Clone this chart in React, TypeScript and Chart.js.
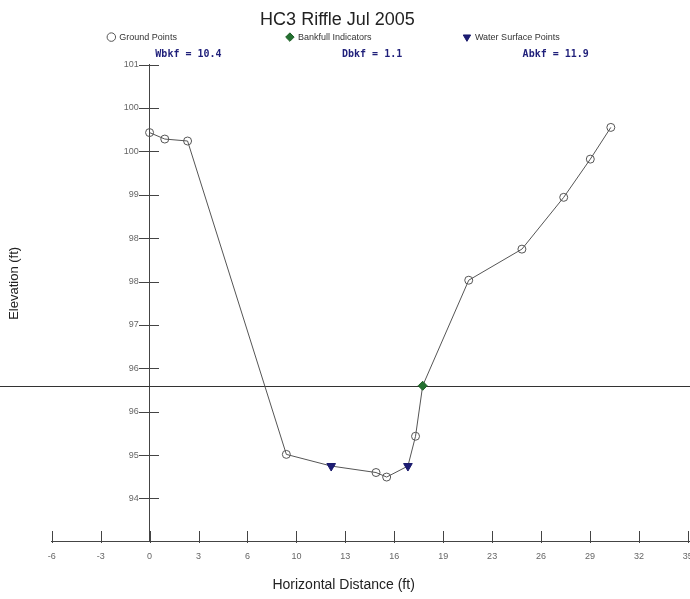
import React, { useEffect, useRef } from 'react';
import { Chart, registerables } from 'chart.js';

Chart.register(...registerables);

// ---- data ----
const chartTitle = 'HC3 Riffle Jul 2005';
const xAxisTitle = 'Horizontal Distance (ft)';
const yAxisTitle = 'Elevation (ft)';
const seriesNames = ['Ground Points', 'Bankfull Indicators', 'Water Surface Points'];

const groundStation = [0, 1.0, 2.5, 9.0, 14.9, 15.6, 17.5, 21.0, 24.5, 27.25, 29.0, 30.35];
const groundElevation = [99.95, 99.85, 99.82, 94.98, 94.7, 94.63, 95.26, 97.67, 98.15, 98.95, 99.54, 100.03];
const bankfullStation = [17.97];
const bankfullElevation = [96.04];
const waterStation = [11.95, 17.0];
const waterElevation = [94.8, 94.8];
const bankfullLevel = 96.04;

const wbkf = 10.4;
const dbkf = 1.1;
const abkf = 11.9;

const xTickValues = [-6.44, -3.22, 0, 3.22, 6.44, 9.66, 12.88, 16.1, 19.32, 22.54, 25.76, 28.98, 32.2, 35.42];
const xTickLabels = ['-6', '-3', '0', '3', '6', '10', '13', '16', '19', '23', '26', '29', '32', '35'];
const yTickValues = [94.3, 94.97, 95.64, 96.31, 96.98, 97.65, 98.32, 98.99, 99.66, 100.33, 101.0];
const yTickLabels = ['94', '95', '96', '96', '97', '98', '98', '99', '100', '100', '101'];
const xRange = [-6.44, 35.56];
const yRange = [93.63, 101.0];

// ---- styling ----
const SANS = 'Liberation Sans';
const MONO = 'DejaVu Sans Mono';
const LINE_COLOR = '#555555';
const AXIS_COLOR = '#444444';
const legendPadSpaces = [43, 36, 9];
const yLabelGap = '    \u200A';

const pts = (xs: number[], ys: number[]) => xs.map((x, i) => ({ x, y: ys[i] }));

const profilePoints = [
  ...pts(groundStation, groundElevation),
  ...pts(bankfullStation, bankfullElevation),
  ...pts(waterStation, waterElevation),
].sort((a, b) => a.x - b.x);

const statsText =
  ' '.repeat(9) +
  `Wbkf = ${wbkf.toFixed(1)}` +
  ' '.repeat(20) +
  `Dbkf = ${dbkf.toFixed(1)}` +
  ' '.repeat(20) +
  `Abkf = ${abkf.toFixed(1)}`;

const axisMarks = {
  id: 'axisMarks',
  beforeDatasetsDraw(chart: any) {
    const { ctx, scales } = chart;
    const py = Math.round(scales.y.getPixelForValue(bankfullLevel)) + 0.5;
    ctx.save();
    ctx.strokeStyle = '#333333';
    ctx.lineWidth = 1;
    ctx.beginPath();
    ctx.moveTo(0, py);
    ctx.lineTo(chart.width, py);
    ctx.stroke();
    ctx.restore();
  },
  afterDraw(chart: any) {
    const { ctx, scales, chartArea } = chart;
    const x = scales.x;
    const y = scales.y;
    ctx.save();
    ctx.strokeStyle = AXIS_COLOR;
    ctx.lineWidth = 1;
    ctx.beginPath();
    const bottom = Math.round(chartArea.bottom);
    x.ticks.forEach((t: any) => {
      const px = Math.round(x.getPixelForValue(t.value)) + 0.5;
      ctx.moveTo(px, bottom - 11);
      ctx.lineTo(px, bottom + 1);
    });
    const ax = Math.round(x.getPixelForValue(0));
    y.ticks.forEach((t: any) => {
      const py = Math.round(y.getPixelForValue(t.value)) + 0.5;
      ctx.moveTo(ax - 11, py);
      ctx.lineTo(ax + 9, py);
    });
    ctx.stroke();
    ctx.restore();
  },
};

export default function App() {
  const ref = useRef<HTMLCanvasElement>(null);

  useEffect(() => {
    const canvas = ref.current;
    if (!canvas) return;
    const chart = new Chart(canvas, {
      type: 'scatter',
      data: {
        datasets: [
          {
            label: seriesNames[0],
            data: pts(groundStation, groundElevation),
            showLine: false,
            pointStyle: 'circle',
            pointRadius: 4,
            pointBorderWidth: 1,
            borderColor: LINE_COLOR,
            backgroundColor: 'rgba(0,0,0,0)',
            pointBorderColor: LINE_COLOR,
            pointBackgroundColor: 'rgba(0,0,0,0)',
            order: 0,
          },
          {
            label: seriesNames[1],
            data: pts(bankfullStation, bankfullElevation),
            showLine: false,
            pointStyle: 'rectRot',
            pointRadius: 4.5,
            pointBorderWidth: 1,
            borderColor: '#1d5e24',
            backgroundColor: '#237030',
            pointBorderColor: '#1d5e24',
            pointBackgroundColor: '#237030',
            order: 0,
          },
          {
            label: seriesNames[2],
            data: pts(waterStation, waterElevation),
            showLine: false,
            pointStyle: 'triangle',
            pointRotation: 180,
            pointRadius: 5,
            pointBorderWidth: 1,
            borderColor: '#18186a',
            backgroundColor: '#1c1c74',
            pointBorderColor: '#18186a',
            pointBackgroundColor: '#1c1c74',
            order: 0,
          },
          {
            label: 'profile',
            data: profilePoints,
            showLine: true,
            pointRadius: 0,
            borderColor: LINE_COLOR,
            borderWidth: 1,
            tension: 0,
            order: 5,
          },
        ],
      },
      options: {
        responsive: false,
        animation: false,
        events: [],
        layout: { padding: 0, autoPadding: false },
        scales: {
          x: {
            type: 'linear',
            position: 'bottom',
            min: xRange[0],
            max: xRange[1],
            afterBuildTicks: (s: any) => {
              s.ticks = xTickValues.map((value) => ({ value }));
            },
            afterFit: (s: any) => {
              s.paddingLeft = 0;
              s.paddingRight = 0;
            },
            ticks: {
              autoSkip: false,
              maxRotation: 0,
              padding: 9,
              color: '#666666',
              font: { family: SANS, size: 9 },
              callback: (_v: any, i: number) => xTickLabels[i],
            },
            grid: { display: false, drawTicks: false },
            border: { display: true, color: AXIS_COLOR, width: 1 },
            title: {
              display: true,
              text: xAxisTitle + ' '.repeat(14),
              color: '#222222',
              font: { family: SANS, size: 14 },
              padding: { top: 6, bottom: 5.6 },
            },
          },
          y: {
            type: 'linear',
            position: { x: 0 } as any,
            min: yRange[0],
            max: yRange[1],
            afterBuildTicks: (s: any) => {
              s.ticks = yTickValues.map((value) => ({ value }));
            },
            ticks: {
              autoSkip: false,
              padding: 0,
              color: '#666666',
              font: { family: SANS, size: 9 },
              callback: (_v: any, i: number) => yTickLabels[i] + yLabelGap,
            },
            grid: { display: false, drawTicks: false },
            border: { display: true, color: AXIS_COLOR, width: 1 },
          },
          yt: {
            type: 'linear',
            position: 'left',
            ticks: { display: false },
            grid: { display: false, drawTicks: false },
            border: { display: false },
            title: {
              display: true,
              text: ' '.repeat(11) + yAxisTitle,
              color: '#222222',
              font: { family: SANS, size: 13 },
              padding: { top: 7, bottom: 29.1 },
            },
          },
        },
        plugins: {
          title: {
            display: true,
            text: chartTitle + '   ',
            color: '#222222',
            font: { family: SANS, size: 18, weight: 'normal' },
            padding: { top: 9, bottom: 0 },
          },
          legend: {
            display: true,
            position: 'top',
            maxHeight: 13,
            labels: {
              usePointStyle: true,
              boxWidth: 7,
              boxHeight: 6,
              padding: 2,
              color: '#333333',
              font: { family: SANS, size: 9 },
              generateLabels: (c: any) => {
                const items = Chart.defaults.plugins.legend.labels.generateLabels(c);
                return items
                  .filter((it: any) => it.datasetIndex < 3)
                  .map((it: any, k: number) => ({ ...it, text: it.text + ' '.repeat(legendPadSpaces[k]) }));
              },
            },
          },
          subtitle: {
            display: true,
            text: statsText,
            color: '#1f1f7a',
            font: { family: MONO, size: 10, weight: 'bold' },
            padding: { top: 5, bottom: 4 },
            weight: 500,
          } as any,
          tooltip: { enabled: false },
        },
      } as any,
      plugins: [axisMarks],
    });
    return () => chart.destroy();
  }, []);

  return (
    <canvas
      ref={ref}
      width={690}
      height={599}
      style={{ position: 'fixed', left: 0, top: 0, display: 'block', width: 690, height: 599 }}
    />
  );
}
